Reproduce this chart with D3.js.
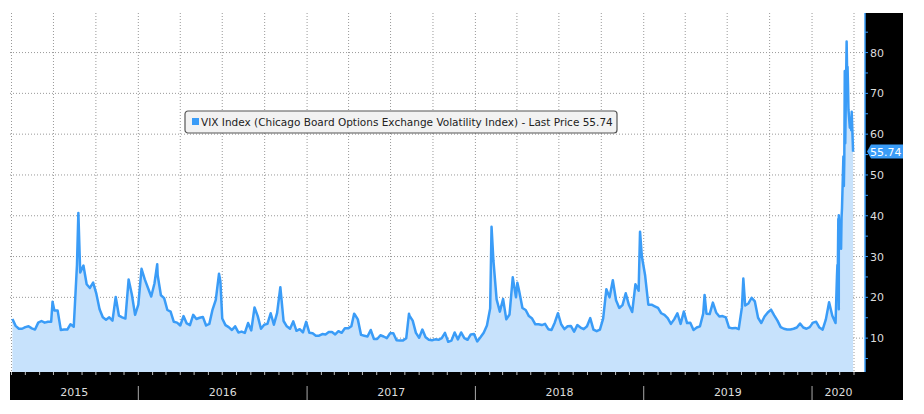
<!DOCTYPE html>
<html>
<head>
<meta charset="utf-8">
<script src="https://cdn.jsdelivr.net/npm/d3@7"></script>
<style>
body { margin:0; background:#fff; }
svg { display:block; font-family:"DejaVu Sans", sans-serif; }
</style>
</head>
<body>
<div id="chart"></div>
<script>
// weekly closes (Fridays) starting 2015-04-03
var weeklyStart = "2015-04-03";
var weeklyValues = [
 14.7,13.0,12.3,12.3,12.7,12.9,12.4,12.1,13.8,14.2,13.8,14.0,14.0,16.8,16.8,12.0,12.1,12.1,13.4,12.8,28.0,26.1,27.8,23.2,22.3,23.6,20.9,17.1,15.1,14.5,15.1,14.3,20.1,15.5,15.1,14.8,24.4,20.7,15.7,18.2,
 27.0,24.4,22.3,20.2,23.4,25.4,20.5,19.8,16.9,16.5,14.0,13.8,13.1,15.4,13.6,13.2,15.7,14.7,15.0,15.2,13.1,13.5,17.0,19.4,25.8,14.8,13.2,12.7,12.0,12.9,11.4,11.6,11.3,13.7,11.9,17.5,15.4,12.3,13.3,13.5,16.1,13.3,16.2,22.5,14.2,12.9,12.3,14.1,11.8,12.2,11.4,14.0,
 11.3,11.2,10.6,10.6,11.0,10.9,11.5,11.5,10.9,11.7,11.3,12.4,12.4,12.9,15.9,14.6,10.8,10.6,10.4,12.0,9.8,9.8,10.7,10.4,10.0,11.2,11.2,9.5,9.4,9.4,10.0,15.5,14.3,11.3,10.1,12.1,10.2,9.6,9.5,9.7,9.6,10.0,11.3,9.1,9.4,11.4,9.7,11.4,10.0,9.6,10.9,11.0,
 9.2,10.2,11.3,13.1,17.3,29.1,19.5,16.5,19.6,14.6,15.8,24.9,20.0,21.5,17.4,16.9,15.4,14.8,13.4,13.4,13.2,13.5,12.2,12.0,13.8,16.1,13.4,12.2,12.9,13.0,11.6,13.2,12.6,12.2,12.9,14.9,12.1,11.7,12.1,14.8,22.0,20.0,24.2,19.3,17.4,18.1,21.0,18.1,16.4,23.2,21.6,30.0,25.4,
 18.2,18.2,17.8,17.4,16.1,15.7,14.9,13.5,14.6,16.1,13.5,16.5,13.7,13.8,12.0,12.6,12.9,16.0,16.0,15.9,18.7,16.3,15.3,15.4,15.1,12.6,12.4,12.5,12.2,17.6,18.0,18.5,19.9,19.0,15.0,13.7,15.3,16.3,17.0,15.6,14.3,12.7,12.3,12.1,12.1,12.3,12.6,13.6,12.6,12.3,12.7,13.8,
 14.0,12.6,12.1,14.6,18.8,15.5,13.7,17.1
];
// intraweek spikes and the daily run of Feb-Mar 2020
var extraDates = ["2015-06-29","2015-08-24","2016-02-11","2016-06-27","2017-04-13","2017-08-10","2018-02-05","2018-04-02","2018-12-24","2019-08-05","2019-05-13",
 "2020-02-24","2020-02-25","2020-02-26","2020-02-27","2020-02-28","2020-03-02","2020-03-03","2020-03-04","2020-03-05","2020-03-06","2020-03-09","2020-03-10","2020-03-11","2020-03-12","2020-03-13","2020-03-16","2020-03-17","2020-03-18","2020-03-19","2020-03-20","2020-03-23","2020-03-24","2020-03-25","2020-03-26","2020-03-27","2020-03-30"];
var extraValues = [18.9,40.7,28.1,23.9,16.0,16.0,37.3,23.6,36.1,24.6,20.6,
 25.0,27.9,27.6,39.2,40.1,33.4,36.8,31.9,39.6,41.9,54.5,47.3,53.9,75.5,57.8,82.7,75.9,76.5,72.0,66.0,61.6,61.7,63.9,61.0,65.5,55.7];
var yTicks = [10,20,30,40,50,60,70,80];
var years = ["2015","2016","2017","2018","2019","2020"];
var lastPrice = 55.74;
var legendText = "VIX Index (Chicago Board Options Exchange Volatility Index) - Last Price 55.74";

function init(){
  var parse = d3.timeParse("%Y-%m-%d");
  var data = weeklyValues.map(function(v, i){ return {date: d3.timeWeek.offset(parse(weeklyStart), i), value: v}; });
  extraDates.forEach(function(d, i){ data.push({date: parse(d), value: extraValues[i]}); });
  data.sort(function(a, b){ return a.date - b.date; });

  var W = 924, H = 414;
  var pl = 10, pr = 865, pt = 13, pb = 372;
  var blue = "#3a9cf7";
  var svg = d3.select("#chart").append("svg").attr("width", W).attr("height", H);

  var x = d3.scaleTime().domain([parse("2015-04-01"), parse("2020-04-01")]).range([11.5, 854]);
  var y = d3.scaleLinear().domain([1.7, 89.7]).range([pb, pt]);

  // grid
  svg.selectAll(".hg").data(yTicks).enter().append("line")
    .attr("x1", pl).attr("x2", pr).attr("y1", function(d){ return y(d); }).attr("y2", function(d){ return y(d); })
    .attr("stroke", "#999").attr("stroke-dasharray", "1,2");
  var quarters = d3.timeMonth.every(3).range(parse("2015-04-01"), parse("2020-04-02"));
  svg.selectAll(".vg").data(quarters).enter().append("line")
    .attr("x1", function(d){ return x(d); }).attr("x2", function(d){ return x(d); }).attr("y1", pt).attr("y2", pb)
    .attr("stroke", "#999").attr("stroke-dasharray", "1,2");

  // area + line
  var area = d3.area().x(function(d){ return x(d.date); }).y0(pb).y1(function(d){ return y(d.value); });
  var line = d3.line().x(function(d){ return x(d.date); }).y(function(d){ return y(d.value); });
  svg.append("path").datum(data).attr("d", area).attr("fill", "#c7e2fc");
  svg.append("path").datum(data).attr("d", line).attr("fill", "none").attr("stroke", blue).attr("stroke-width", 2.5).attr("stroke-linejoin", "round");

  // bottom band
  svg.append("rect").attr("x", pl).attr("y", pb).attr("width", pr - pl).attr("height", 28).attr("fill", "#000");
  var months = d3.timeMonth.range(parse("2015-04-01"), parse("2020-04-02"));
  svg.selectAll(".mt").data(months).enter().append("line")
    .attr("x1", function(d){ return x(d); }).attr("x2", function(d){ return x(d); }).attr("y1", pb).attr("y2", pb + 3)
    .attr("stroke", "#bbb");
  years.forEach(function(yr){
    var s = Math.max(pl, x(parse(yr + "-01-01")));
    var e = Math.min(pr, x(parse((+yr + 1) + "-01-01")));
    if (yr !== "2015") svg.append("line").attr("x1", s).attr("x2", s).attr("y1", 386).attr("y2", 400).attr("stroke", "#aaa");
    svg.append("text").attr("x", (s + e) / 2).attr("y", 396).attr("text-anchor", "middle")
      .attr("fill", "#ddd").attr("font-size", 11).text(yr);
  });

  // right axis panel
  svg.append("rect").attr("x", pr).attr("y", pt).attr("width", 38).attr("height", 400 - pt).attr("fill", "#000");
  svg.append("line").attr("x1", pr).attr("x2", pr).attr("y1", pt).attr("y2", pb).attr("stroke", blue).attr("stroke-width", 1.5);
  var minor = d3.range(5, 90, 5);
  svg.selectAll(".yt").data(minor).enter().append("line")
    .attr("x1", pr).attr("x2", pr + 3).attr("y1", function(d){ return y(d); }).attr("y2", function(d){ return y(d); })
    .attr("stroke", blue);
  svg.selectAll(".yl").data(yTicks).enter().append("text")
    .attr("x", pr + 5).attr("y", function(d){ return y(d) + 4; })
    .attr("fill", "#ddd").attr("font-size", 11).text(function(d){ return d; });

  // last price tag
  var ly = y(lastPrice);
  svg.append("path").attr("d", "M" + (pr + 2) + "," + ly + " l4,-7 h32 v14 h-32 z").attr("fill", blue);
  svg.append("text").attr("x", pr + 5).attr("y", ly + 4).attr("fill", "#fff").attr("font-size", 11).text(lastPrice.toFixed(2));

  // legend
  var lg = svg.append("g").attr("transform", "translate(185,111)");
  lg.append("rect").attr("width", 432).attr("height", 22).attr("rx", 3).attr("fill", "#f2f2f2").attr("stroke", "#555").attr("stroke-width", 1.2);
  lg.append("rect").attr("x", 7).attr("y", 7).attr("width", 7).attr("height", 7).attr("fill", blue);
  lg.append("text").attr("x", 16).attr("y", 15).attr("font-size", 10.5).attr("fill", "#222").text(legendText);
}
window.onload = init;
</script>
</body>
</html>
